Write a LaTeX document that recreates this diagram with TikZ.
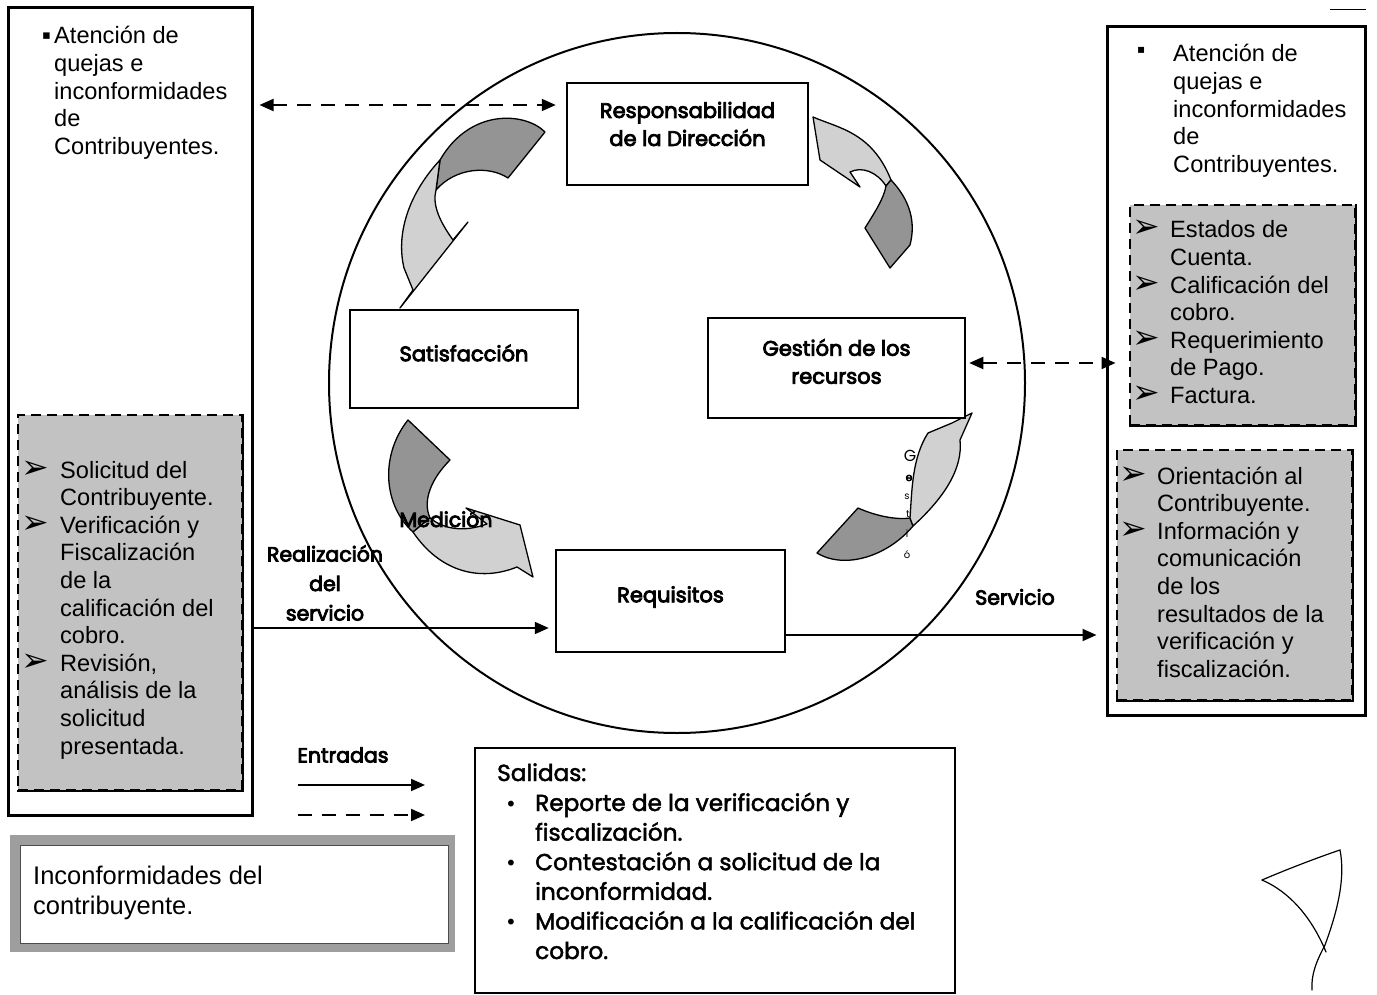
\documentclass[tikz,border=0pt]{standalone}
\usepackage{fontspec}
\setmainfont{Liberation Sans}
\newfontfamily\gothic{Poppins}
\newfontfamily\gothicsb[FakeBold=4]{Poppins}
\newfontfamily\gothicm[FakeBold=2]{Poppins}
\newfontfamily\dv{DejaVu Sans}
\usetikzlibrary{arrows.meta}
\newcommand\ab[1]{\makebox[#1][l]{\smash{\dv\fontsize{33}{33}\selectfont ➢}}}
\newcommand\bu[1]{\makebox[#1][l]{\dv\fontsize{20}{20}\selectfont •}}
\tikzset{
 box/.style={draw, line width=2.5pt, inner sep=0pt, fill=white},
 cboxtxt/.style={align=center, inner sep=0pt, font=\gothicsb\fontsize{21}{28}\selectfont},
 graybox/.style={fill=black!24, draw=black, line width=1.5pt, dash pattern=on 10pt off 6pt, inner sep=0pt},
 txt/.style={anchor=base west, inner sep=0pt, font=\fontsize{23.6}{27.6}\selectfont},
 arr/.style={line width=2pt, -{Triangle[length=14pt,width=12pt]}},
 darr/.style={line width=2pt, dash pattern=on 14pt off 10pt, {Triangle[length=14pt,width=12pt]}-{Triangle[length=14pt,width=12pt]}},
 dlarr/.style={line width=2pt, dash pattern=on 14pt off 10pt, -{Triangle[length=14pt,width=12pt]}},
 lbl/.style={font=\gothicsb\fontsize{20.5}{29.5}\selectfont, align=center, inner sep=0pt},
 darkp/.style={fill=black!42, draw=black, line width=1.3pt, line join=round},
 lightp/.style={fill=black!18, draw=black, line width=1.3pt, line join=round},
 vl/.style={inner sep=0pt, font=\gothic\fontsize{10}{10}\selectfont},
}
\begin{document}
\begin{tikzpicture}[x=1pt,y=-1pt]
\useasboundingbox (0,0) rectangle (1377,995);
% circle
\draw[line width=2pt] (677,383) ellipse [x radius=348pt, y radius=350pt];

% curved block arrows
\path[darkp] (545,132) .. controls (525,112) and (470,108) .. (440,160) -- (436,190) .. controls (455,168) and (488,165) .. (508,178) -- cycle;
\path[lightp] (440,160) .. controls (412,190) and (395,230) .. (404,268) -- (413,290) -- (400,308) -- (468,222) -- (453,240) .. controls (440,222) and (432,205) .. (436,190) -- cycle;

\path[lightp] (813,117) .. controls (838,128) and (872,132) .. (891,180) -- (886,186) .. controls (877,172) and (862,166) .. (850,172) -- (860,187) -- (820,160) -- cycle;
\path[darkp] (891,180) .. controls (910,200) and (916,222) .. (910,245) -- (890,268) -- (865,228) .. controls (875,212) and (884,198) .. (886,186) -- cycle;

\path[darkp] (817,553) -- (858,508) .. controls (876,516) and (896,520) .. (910,518) -- (913,526) .. controls (888,556) and (845,570) .. (817,553) -- cycle;
\path[lightp] (972,413) -- (952,423) -- (928,433) .. controls (912,458) and (912,490) .. (910,518) -- (913,526) .. controls (945,497) and (963,468) .. (960,440) -- cycle;

\path[darkp] (408,420) -- (450,460) .. controls (432,478) and (422,500) .. (430,518) -- (413,532) .. controls (383,505) and (380,455) .. (408,420) -- cycle;
\path[lightp] (413,532) .. controls (440,572) and (480,582) .. (517,567) -- (533,577) -- (520,525) -- (466,508) -- (487,524) .. controls (465,532) and (445,530) .. (430,518) -- cycle;

% vertical letters
\node[vl, font=\gothic\fontsize{16}{16}\selectfont] (g1) at (910,456) {G};
\node[vl, font=\gothicsb\fontsize{11}{11}\selectfont] (g2) at (909,478) {e};
\node[vl] (g3) at (907,497) {s};
\node[vl] (g4) at (908,514) {t};
\node[vl] (g5) at (907,534) {i};
\node[vl] (g6) at (907,555) {ó};

% left big box
\node[box, fill=none, line width=3pt, minimum width=244pt, minimum height=807pt] (lbox) at (130,411.5) {};
\node[graybox, minimum width=224pt, minimum height=375pt] (lgray) at (130,602.5) {};
\draw[line width=2pt] (lgray.north east) -- (lgray.south east) -- (lgray.south west);
\node[inner sep=0pt, anchor=base west, font=\dv\fontsize{13}{13}\selectfont] (lbul) at (42,40) {▪};
\node[txt] (ltxt) at (54,44) {\begin{tabular}[t]{@{}l@{}}Atención de\\quejas e\\inconformidades\\de\\Contribuyentes.\end{tabular}};
\node[txt] (lgtxt) at (21,478) {\begin{tabular}[t]{@{}l@{}l@{}}\ab{39pt}&Solicitud del\\&Contribuyente.\\\ab{39pt}&Verificación y\\&Fiscalización\\&de la\\&calificación del\\&cobro.\\\ab{39pt}&Revisión,\\&análisis de la\\&solicitud\\&presentada.\end{tabular}};

% right big box
\node[box, fill=none, line width=3pt, minimum width=258pt, minimum height=688pt] (rbox) at (1236,371) {};
\node[graybox, minimum width=225pt, minimum height=220pt] (rgray1) at (1242.5,315) {};
\draw[line width=2pt] (rgray1.north east) -- (rgray1.south east) -- (rgray1.south west);
\node[graybox, minimum width=235pt, minimum height=250pt] (rgray2) at (1234.5,575) {};
\draw[line width=2pt] (rgray2.north east) -- (rgray2.south east) -- (rgray2.south west);
\node[inner sep=0pt, anchor=base west, font=\dv\fontsize{12}{12}\selectfont] (rbul) at (1137,54) {▪};
\node[txt] (rtxt) at (1173,62) {\begin{tabular}[t]{@{}l@{}}Atención de\\quejas e\\inconformidades\\de\\Contribuyentes.\end{tabular}};
\node[txt] (rg1txt) at (1132,238) {\begin{tabular}[t]{@{}l@{}l@{}}\ab{38pt}&Estados de\\&Cuenta.\\\ab{38pt}&Calificación del\\&cobro.\\\ab{38pt}&Requerimiento\\&de Pago.\\\ab{38pt}&Factura.\end{tabular}};
\node[txt] (rg2txt) at (1119,484) {\begin{tabular}[t]{@{}l@{}l@{}}\ab{38pt}&Orientación al\\&Contribuyente.\\\ab{38pt}&Información y\\&comunicación\\&de los\\&resultados de la\\&verificación y\\&fiscalización.\end{tabular}};
\draw[line width=1pt] (1330,10) -- (1366,10);

% process boxes
\node[box, minimum width=241pt, minimum height=102pt] (resp) at (687.5,134) {};
\node[cboxtxt] (resptxt) at ([yshift=10pt]resp.center) {Responsabilidad\\de la Dirección};
\node[box, minimum width=228pt, minimum height=98pt] (sat) at (464,359) {};
\node[cboxtxt] (sattxt) at ([yshift=6pt]sat.center) {Satisfacción};
\node[box, minimum width=257pt, minimum height=100pt] (ges) at (836.5,368) {};
\node[cboxtxt] (gestxt) at ([yshift=6.5pt]ges.center) {Gestión de los\\recursos};
\node[box, minimum width=229pt, minimum height=102pt] (req) at (670.5,601) {};
\node[cboxtxt] (reqtxt) at ([yshift=4pt]req.center) {Requisitos};

% connectors
\coordinate (y105) at (0,105);
\coordinate (y363) at (0,363);
\coordinate (y628) at (0,628);
\coordinate (y635) at (0,635);
\draw[darr, shorten <=6pt, shorten >=10pt] (lbox.east |- y105) -- (resp.west |- y105);
\draw[darr, shorten <=3pt, shorten >=-10pt] (ges.east |- y363) -- (rbox.west |- y363);
\draw[arr, shorten >=6pt] (lbox.east |- y628) -- (req.west |- y628);
\draw[arr, shorten >=9pt] (req.east |- y635) -- (rbox.west |- y635);

\node[lbl] (real) at (325,583) {Realización\\del\\servicio};
\node[lbl] (serv) at (1015,597) {Servicio};
\node[lbl] (med) at (446,519) {Medición};

% legend
\node[lbl] (ent) at (343,755) {Entradas};
\coordinate (l1a) at (298,785);
\coordinate (l1b) at (425,785);
\coordinate (l2a) at (298,815);
\coordinate (l2b) at (425,815);
\draw[arr] (l1a) -- (l1b);
\draw[dlarr] (l2a) -- (l2b);

% inconformidades box
\node[fill=black!38, inner sep=0pt, minimum width=445pt, minimum height=117pt] (inc) at (232.5,893.5) {};
\node[fill=white, draw=black!70, line width=0.8pt, inner sep=0pt, minimum width=428pt, minimum height=98pt] (incin) at (234,894) {};
\node[anchor=base west, inner sep=0pt, font=\fontsize{25.5}{30}\selectfont] (inctxt) at (33,884) {\begin{tabular}[t]{@{}l@{}}Inconformidades del\\contribuyente.\end{tabular}};

% salidas box
\node[box, minimum width=480pt, minimum height=245pt] (sal) at (715,870.5) {};
\node[anchor=base west, inner sep=0pt, font=\gothicm\fontsize{23.2}{29.6}\selectfont] (saltit) at (497,781) {Salidas:};
\node[anchor=base west, inner sep=0pt, font=\gothicm\fontsize{23.2}{29.6}\selectfont] (sallist) at (505,811) {\begin{tabular}[t]{@{}l@{}l@{}}\bu{30pt}&Reporte de la verificación y\\&fiscalización.\\\bu{30pt}&Contestación a solicitud de la\\&inconformidad.\\\bu{30pt}&Modificación a la calificación del\\&cobro.\end{tabular}};

% signature
\draw[line width=1.2pt, line cap=round] (1262,880) .. controls (1290,868) and (1322,856) .. (1340,850) .. controls (1346,880) and (1336,915) .. (1325,945) .. controls (1316,962) and (1311,975) .. (1312,990);
\draw[line width=1.2pt, line cap=round] (1262,880) .. controls (1290,892) and (1312,918) .. (1326,952);
\end{tikzpicture}
\end{document}
